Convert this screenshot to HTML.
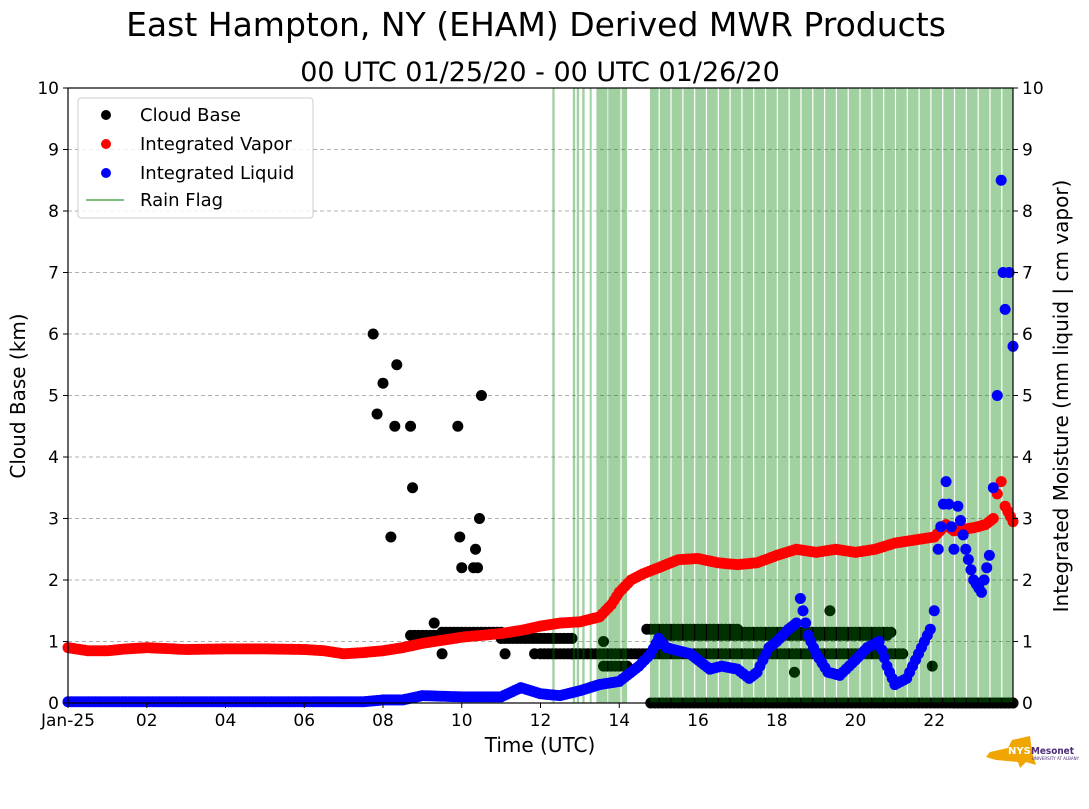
<!DOCTYPE html>
<html><head><meta charset="utf-8"><style>
body{margin:0;background:#fff;width:1089px;height:804px;overflow:hidden;font-family:"Liberation Sans","DejaVu Sans",sans-serif}
svg text{font-family:"DejaVu Sans","Liberation Sans",sans-serif}
</style></head><body>
<svg id="c" width="1089" height="804" xmlns="http://www.w3.org/2000/svg">
<text x="536" y="36" font-size="33" text-anchor="middle">East Hampton, NY (EHAM) Derived MWR Products</text>
<text x="540" y="81" font-size="27" text-anchor="middle">00 UTC 01/25/20 - 00 UTC 01/26/20</text>
<g id="grid"></g><g id="cb"></g><g id="rain"></g><g id="vap"></g><g id="liq"></g><g id="axes"></g>
<g>
<rect x="78" y="98" width="235" height="120" rx="3" fill="#fff" fill-opacity="0.8" stroke="#ccc"/>
<circle cx="106" cy="115" r="5" fill="#000"/>
<text x="140" y="121" font-size="18">Cloud Base</text>
<circle cx="106" cy="144" r="5" fill="red"/>
<text x="140" y="150" font-size="18">Integrated Vapor</text>
<circle cx="106" cy="173" r="5" fill="blue"/>
<text x="140" y="179" font-size="18">Integrated Liquid</text>
<line x1="86" y1="200" x2="124" y2="200" stroke="green" stroke-opacity="0.5" stroke-width="2"/>
<text x="140" y="206" font-size="18">Rain Flag</text>
</g>
<text x="540" y="752" font-size="20" text-anchor="middle">Time (UTC)</text>
<text transform="translate(25,396) rotate(-90)" font-size="20" text-anchor="middle">Cloud Base (km)</text>
<text transform="translate(1068,396) rotate(-90)" font-size="20" text-anchor="middle">Integrated Moisture (mm liquid | cm vapor)</text>
<g>
<path d="M990 752 L1008 748 L1012 740 L1030 736 L1032 752 L1036 765 L1026 762 L1020 768 L1018 762 L996 760 L986 757 Z" fill="#f0a500"/>
<text x="1008" y="754" font-size="10" font-weight="bold" fill="#fff">NYS</text>
<text x="1031" y="754" font-size="10" font-weight="bold" fill="#4b2a77" textLength="43" lengthAdjust="spacingAndGlyphs">Mesonet</text>
<text x="1032" y="760" font-size="4" fill="#4b2a77">UNIVERSITY AT ALBANY</text>
</g>
</svg>
<script>
const NS="http://www.w3.org/2000/svg";
const X0=68,X1=1013,Y0=703,Y1=88;
const xs=h=>X0+(X1-X0)*h/24, ys=v=>Y0-(Y0-Y1)*v/10;
function mk(tag,attrs,parent){const e=document.createElementNS(NS,tag);for(const k in attrs)e.setAttribute(k,attrs[k]);parent.appendChild(e);return e;}
const yTicks=[0,1,2,3,4,5,6,7,8,9,10];
const xTicks=[0,2,4,6,8,10,12,14,16,18,20,22];
const xTickLabels=["Jan-25","02","04","06","08","10","12","14","16","18","20","22"];
// Integrated vapor (cm)
const vapT=[0,0.5,1,1.5,2,3,4,5,6,6.5,7,7.5,8,8.5,9,9.5,10,10.5,11,11.5,12,12.5,13,13.5,13.8,14,14.3,14.6,15,15.5,16,16.5,17,17.5,18,18.5,19,19.5,20,20.5,21,21.5,22,22.3,22.5,23,23.3,23.5,23.6,23.7,23.8,24];
const vapV=[0.9,0.85,0.85,0.88,0.9,0.87,0.88,0.88,0.87,0.85,0.8,0.82,0.85,0.9,0.97,1.02,1.07,1.1,1.13,1.18,1.25,1.3,1.32,1.4,1.6,1.8,2.0,2.1,2.2,2.33,2.35,2.28,2.25,2.28,2.4,2.5,2.45,2.5,2.45,2.5,2.6,2.65,2.7,2.9,2.8,2.85,2.9,3.0,3.4,3.6,3.2,2.95];
// Integrated liquid (mm)
const liqT=[0,2,4,6,7.5,8,8.5,9,10,11,11.5,12,12.5,13,13.5,14,14.5,14.8,15,15.2,15.5,15.8,16,16.3,16.6,17,17.3,17.5,17.8,18,18.3,18.5,18.6,18.8,19,19.3,19.6,20,20.3,20.6,20.8,21,21.3,21.6,21.9,22,22.1,22.3,22.5,22.6,22.8,23,23.2,23.4,23.5,23.6,23.7,23.75,23.8,23.9,24];
const liqV=[0.02,0.02,0.02,0.02,0.02,0.05,0.05,0.12,0.1,0.1,0.25,0.15,0.12,0.2,0.3,0.35,0.6,0.8,1.05,0.9,0.85,0.8,0.7,0.55,0.6,0.55,0.4,0.5,0.9,1.0,1.2,1.3,1.7,1.1,0.8,0.5,0.45,0.7,0.9,1.0,0.6,0.3,0.4,0.8,1.2,1.5,2.5,3.6,2.5,3.2,2.5,2.0,1.8,2.4,3.5,5.0,8.5,7.0,6.4,7.0,5.8];
// Cloud base isolated points
const cbT=[7.75,7.85,8.0,8.2,8.3,8.35,8.7,8.75,9.9,9.95,10.0,10.3,10.35,10.4,10.45,10.5,9.3,9.5,11.1,11.85,18.45,19.35,21.95,13.6];
const cbV=[6.0,4.7,5.2,2.7,4.5,5.5,4.5,3.5,4.5,2.7,2.2,2.2,2.5,2.2,3.0,5.0,1.3,0.8,0.8,0.8,0.5,1.5,0.6,1.0];
// Cloud base runs [start h, end h, km]
const cbRunStart=[8.7,9.5,11.0,12.0,12.8,14.7,15.2,17.0,17.6,13.6,14.8,22.5];
const cbRunEnd=[9.5,11.0,12.8,12.8,21.2,17.0,20.8,17.5,20.9,14.2,24,24];
const cbRunV=[1.1,1.15,1.05,0.8,0.8,1.2,1.1,1.15,1.15,0.6,0.0,0.0];
// Rain flag intervals
const rainStart=[12.3,12.82,12.92,13.06,13.25,13.42,13.72,14.06,14.78,15.03,15.33,15.63,15.93,16.23,16.53,16.83,17.13,17.43,17.73,18.03,18.33,18.63,18.93,19.23,19.53,19.83,20.13,20.43,20.73,21.03,21.33,21.63,21.93,22.23,22.53,22.83,23.13,23.43,23.73];
const rainEnd=[12.36,12.88,12.98,13.12,13.3,13.7,14.03,14.2,15.0,15.3,15.6,15.9,16.2,16.5,16.8,17.1,17.4,17.7,18.0,18.3,18.6,18.9,19.2,19.5,19.8,20.1,20.4,20.7,21.0,21.3,21.6,21.9,22.2,22.5,22.8,23.1,23.4,23.7,24];

const grid=document.getElementById('grid'),axes=document.getElementById('axes');
yTicks.forEach(v=>{
  if(v>0&&v<10){const g=mk('line',{x1:X0,x2:X1,y1:ys(v),y2:ys(v),stroke:'#b0b0b0','stroke-dasharray':'4,3','stroke-width':1},grid);
  
  }
  mk('line',{x1:X0-5,x2:X0,y1:ys(v),y2:ys(v),stroke:'#000'},axes);
  mk('line',{x1:X1,x2:X1+5,y1:ys(v),y2:ys(v),stroke:'#000'},axes);
  const tl=mk('text',{x:X0-9,y:ys(v)+6,'font-size':17,'text-anchor':'end'},axes);tl.textContent=v;
  
  
  const tr=mk('text',{x:X1+9,y:ys(v)+6,'font-size':17},axes);tr.textContent=v;
  
  
});
xTicks.forEach((h,i)=>{
  mk('line',{x1:xs(h),x2:xs(h),y1:Y0,y2:Y0+5,stroke:'#000'},axes);
  const t=mk('text',{x:xs(h),y:Y0+23,'font-size':17,'text-anchor':'middle'},axes);t.textContent=xTickLabels[i];
  
  
});
const fr=mk('rect',{x:X0,y:Y1,width:X1-X0,height:Y0-Y1,fill:'none',stroke:'#000','stroke-width':1.2},axes);



function dot(g,h,v,col,name){const c=mk('circle',{cx:xs(h),cy:ys(v),r:5.5,fill:col},g);
  
  }
const cb=document.getElementById('cb');
cbT.forEach((h,i)=>dot(cb,h,cbV[i],'#000','cloud-base-point'));
cbRunStart.forEach((s,i)=>{for(let h=s;h<=cbRunEnd[i]+1e-9;h+=0.1)dot(cb,h,cbRunV[i],'#000','cloud-base-point');});
const rain=document.getElementById('rain');
rainStart.forEach((s,i)=>{const r=mk('rect',{x:xs(s),y:Y1,width:Math.max(1.5,xs(rainEnd[i])-xs(s)),height:Y0-Y1,fill:'green','fill-opacity':0.37},rain);
  
  });
function series(g,T,V,col,name){
  for(let i=0;i<T.length-1;i++){const n=Math.max(1,Math.round((xs(T[i+1])-xs(T[i]))/3));
    for(let k=0;k<n;k++){const f=k/n;dot(g,T[i]+(T[i+1]-T[i])*f,V[i]+(V[i+1]-V[i])*f,col,name);}}
  dot(g,T[T.length-1],V[V.length-1],col,name);
}
series(document.getElementById('vap'),vapT,vapV,'red','vapor-point');
series(document.getElementById('liq'),liqT,liqV,'blue','liquid-point');
</script>
</body></html>
